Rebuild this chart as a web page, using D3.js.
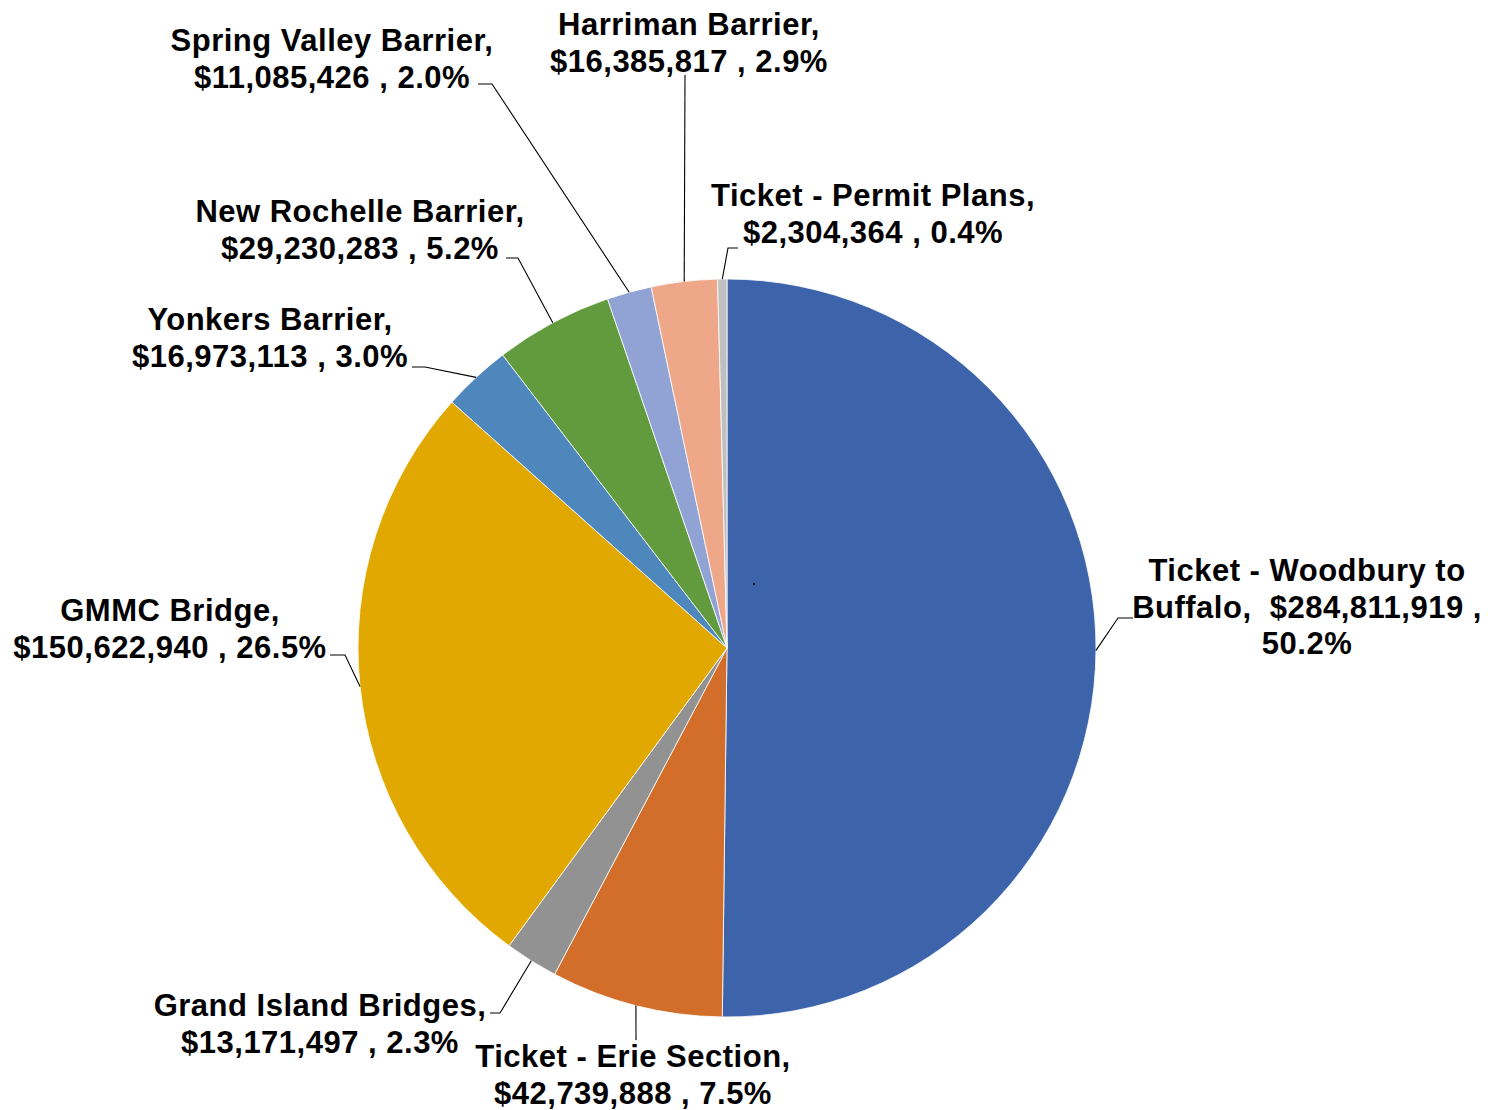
<!DOCTYPE html>
<html>
<head>
<meta charset="utf-8">
<script src="https://cdn.jsdelivr.net/npm/d3@7"></script>
<style>
  html, body { margin: 0; padding: 0; background: #fff; }
  svg text { font-family: "Liberation Sans", Arial, sans-serif; font-weight: bold; fill: #000; }
</style>
</head>
<body>
<svg id="chart" width="1488" height="1110"></svg>
<script>
// ---- data ----
const categories = [
  "Ticket - Woodbury to Buffalo",
  "Ticket - Erie Section",
  "Grand Island Bridges",
  "GMMC Bridge",
  "Yonkers Barrier",
  "New Rochelle Barrier",
  "Spring Valley Barrier",
  "Harriman Barrier",
  "Ticket - Permit Plans"
];
const values = [284811919, 42739888, 13171497, 150622940, 16973113, 29230283, 11085426, 16385817, 2304364];
const percents = ["50.2%", "7.5%", "2.3%", "26.5%", "3.0%", "5.2%", "2.0%", "2.9%", "0.4%"];
const labelLines = [
  ["Ticket - Woodbury to", "Buffalo,  $284,811,919 ,", "50.2%"],
  ["Ticket - Erie Section,", "$42,739,888 , 7.5%"],
  ["Grand Island Bridges,", "$13,171,497 , 2.3%"],
  ["GMMC Bridge,", "$150,622,940 , 26.5%"],
  ["Yonkers Barrier,", "$16,973,113 , 3.0%"],
  ["New Rochelle Barrier,", "$29,230,283 , 5.2%"],
  ["Spring Valley Barrier,", "$11,085,426 , 2.0%"],
  ["Harriman Barrier,", "$16,385,817 , 2.9%"],
  ["Ticket - Permit Plans,", "$2,304,364 , 0.4%"]
];

// ---- styles / layout ----
const colors = ["#3D64AB", "#D26E2A", "#929292", "#E0A800", "#4E87BC", "#629A3E", "#91A3D4", "#EFA789", "#BFBFBF"];
const cx = 727, cy = 648, R = 369;
const fontSize = 31, lineH = 36.5;
const labelLayout = [
  { x: 1307, y: 581, lx: 1133, ly: 618, elbow: -15 },
  { x: 633, y: 1067, lx: 636, ly: 1040, elbow: 0 },
  { x: 320, y: 1016, lx: 490, ly: 1013, elbow: 10 },
  { x: 170, y: 621, lx: 330, ly: 655, elbow: 15 },
  { x: 270, y: 330, lx: 412, ly: 367, elbow: 13 },
  { x: 360, y: 222, lx: 506, ly: 258, elbow: 12 },
  { x: 332, y: 51, lx: 478, ly: 84, elbow: 14 },
  { x: 689, y: 35, lx: 685, ly: 75, elbow: 0 },
  { x: 873, y: 206, lx: 738, ly: 248, elbow: -10 }
];

const svg = d3.select("#chart");
const g = svg.append("g").attr("transform", `translate(${cx},${cy})`);

const pie = d3.pie().sort(null).value(d => d)(values);
const arc = d3.arc().innerRadius(0).outerRadius(R);

g.selectAll("path.slice")
  .data(pie)
  .join("path")
  .attr("class", "slice")
  .attr("d", arc)
  .attr("fill", (d, i) => colors[i])
  .attr("stroke", "#ffffff")
  .attr("stroke-width", 0.8);

// leader lines
pie.forEach((d, i) => {
  const a = (d.startAngle + d.endAngle) / 2;
  const px = cx + R * Math.sin(a), py = cy - R * Math.cos(a);
  const L = labelLayout[i];
  const pts = [[L.lx, L.ly]];
  if (L.elbow !== 0) pts.push([L.lx + L.elbow, L.ly]);
  pts.push([px, py]);
  svg.append("path")
    .attr("d", d3.line()(pts))
    .attr("fill", "none")
    .attr("stroke", "#000")
    .attr("stroke-width", 1.1);
});

// labels
labelLines.forEach((lines, i) => {
  const L = labelLayout[i];
  const t = svg.append("text")
    .attr("text-anchor", "middle")
    .attr("font-size", fontSize)
    .attr("letter-spacing", 0.5);
  lines.forEach((ln, k) => {
    t.append("tspan")
      .attr("x", L.x)
      .attr("y", L.y + k * lineH)
      .style("white-space", "pre")
      .text(ln);
  });
});

// small stray marker visible near the center of the blue slice
svg.append("rect").attr("x", 753).attr("y", 583).attr("width", 2).attr("height", 2).attr("fill", "#111");
</script>
</body>
</html>
